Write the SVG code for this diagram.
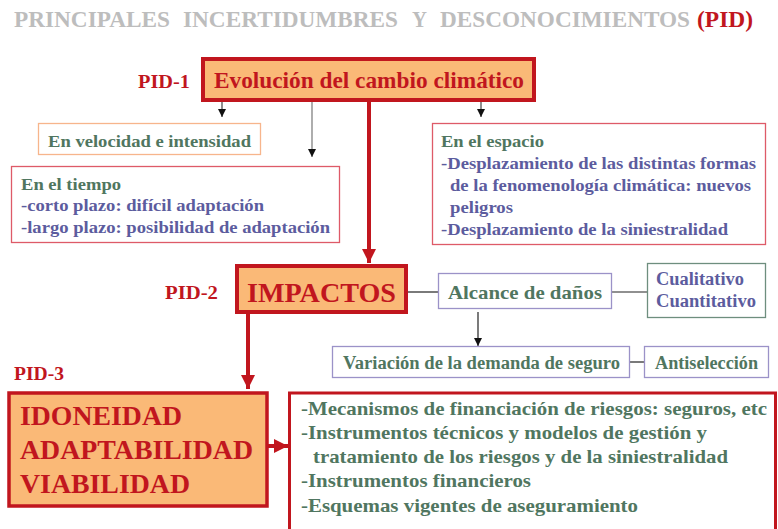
<svg xmlns="http://www.w3.org/2000/svg" width="778" height="529" viewBox="0 0 778 529">
<defs>
<style>
text{font-family:"Liberation Serif","Times New Roman",serif;font-weight:bold}
.title{fill:#BDBDBD;font-size:23px}
.red{fill:#C1161E}
.pid{fill:#C1161E;font-size:19px}
.g{fill:#507660;font-size:17px}
.p{fill:#5C5C9E;font-size:17px}
.g18{fill:#507660;font-size:18px}
.g17{fill:#507660;font-size:19.5px}
.p17{fill:#5C5C9E;font-size:18.5px}
.big{fill:#C1161E;font-size:28px}
.main{fill:#FAB977;stroke:#C1161E;stroke-width:4}
.main3{fill:#FAB977;stroke:#C1161E;stroke-width:3.5}
.box{fill:#fff}
</style>
<marker id="ab" markerWidth="10" markerHeight="10" refX="8" refY="4" orient="auto" markerUnits="userSpaceOnUse"><path d="M0,0 L8,4 L0,8 Z" fill="#111"/></marker>
<marker id="ar" markerWidth="16" markerHeight="16" refX="14" refY="7" orient="auto" markerUnits="userSpaceOnUse"><path d="M0,0 L14,7 L0,14 Z" fill="#C1161E"/></marker>
</defs>
<rect width="778" height="529" fill="#fff"/>
<g id="title">
<text x="14" y="27" class="title" textLength="156" lengthAdjust="spacingAndGlyphs">PRINCIPALES</text>
<text x="183" y="27" class="title" textLength="215" lengthAdjust="spacingAndGlyphs">INCERTIDUMBRES</text>
<text x="412" y="27" class="title" textLength="15" lengthAdjust="spacingAndGlyphs">Y</text>
<text x="440" y="27" class="title" textLength="250" lengthAdjust="spacingAndGlyphs">DESCONOCIMIENTOS</text>
<text x="697" y="27" class="red" font-size="23" textLength="56" lengthAdjust="spacingAndGlyphs">(PID)</text>
</g>
<g id="connectors">
<line x1="222" y1="100" x2="222" y2="117" stroke="#444" stroke-width="1.2" marker-end="url(#ab)"/>
<line x1="312" y1="100" x2="312" y2="157" stroke="#777" stroke-width="1.2" marker-end="url(#ab)"/>
<line x1="481" y1="100" x2="481" y2="117" stroke="#444" stroke-width="1.2" marker-end="url(#ab)"/>
<line x1="369" y1="100" x2="369" y2="263" stroke="#C1161E" stroke-width="4" marker-end="url(#ar)"/>
<line x1="248" y1="312" x2="248" y2="389" stroke="#C1161E" stroke-width="4" marker-end="url(#ar)"/>
<line x1="264" y1="446" x2="288" y2="446" stroke="#C1161E" stroke-width="4" marker-end="url(#ar)"/>
<line x1="406" y1="292" x2="438" y2="292" stroke="#222" stroke-width="1.2"/>
<line x1="612" y1="292" x2="647" y2="292" stroke="#222" stroke-width="1.2"/>
<line x1="630" y1="362" x2="644" y2="362" stroke="#222" stroke-width="1.2"/>
<line x1="478" y1="312" x2="478" y2="346" stroke="#222" stroke-width="1.2" marker-end="url(#ab)"/>
</g>
<g id="pid1">
<text x="138" y="88" class="pid" textLength="52" lengthAdjust="spacingAndGlyphs">PID-1</text>
<rect x="203" y="59" width="331" height="41" class="main"/>
<text x="214" y="88" class="red" font-size="24" textLength="310" lengthAdjust="spacingAndGlyphs">Evolución del cambio climático</text>
</g>
<g id="velocidad">
<rect x="38.5" y="123.5" width="222" height="31" class="box" stroke="#F7B58C" stroke-width="1.3"/>
<text x="48" y="147" class="g" textLength="203" lengthAdjust="spacingAndGlyphs">En velocidad e intensidad</text>
</g>
<g id="tiempo">
<rect x="11.5" y="166.5" width="328" height="76" class="box" stroke="#DE5A68" stroke-width="1.3"/>
<text x="21" y="190" class="g" textLength="100" lengthAdjust="spacingAndGlyphs">En el tiempo</text>
<text x="21" y="211" class="p" textLength="243" lengthAdjust="spacingAndGlyphs">-corto plazo: difícil adaptación</text>
<text x="21" y="233" class="p" textLength="309" lengthAdjust="spacingAndGlyphs">-largo plazo: posibilidad de adaptación</text>
</g>
<g id="espacio">
<rect x="432.5" y="123.5" width="333" height="121" class="box" stroke="#DE5A68" stroke-width="1.3"/>
<text x="441" y="147" class="g" textLength="103" lengthAdjust="spacingAndGlyphs">En el espacio</text>
<text x="441" y="169" class="p" textLength="315" lengthAdjust="spacingAndGlyphs">-Desplazamiento de las distintas formas</text>
<text x="450" y="191" class="p" textLength="301" lengthAdjust="spacingAndGlyphs">de la fenomenología climática: nuevos</text>
<text x="450" y="213" class="p" textLength="63" lengthAdjust="spacingAndGlyphs">peligros</text>
<text x="441" y="235" class="p" textLength="287" lengthAdjust="spacingAndGlyphs">-Desplazamiento de la siniestralidad</text>
</g>
<g id="pid2">
<text x="165" y="299" class="pid" textLength="53" lengthAdjust="spacingAndGlyphs">PID-2</text>
<rect x="237" y="266" width="169" height="46" class="main"/>
<text x="247" y="302" class="big" textLength="149" lengthAdjust="spacingAndGlyphs">IMPACTOS</text>
</g>
<g id="alcance">
<rect x="438.5" y="273.5" width="173" height="35" class="box" stroke="#9B92C8" stroke-width="1.3"/>
<text x="448" y="299" class="g17" textLength="154" lengthAdjust="spacingAndGlyphs">Alcance de daños</text>
</g>
<g id="cualitativo">
<rect x="647.5" y="263.5" width="118" height="54" class="box" stroke="#6E8E7E" stroke-width="1.3"/>
<text x="656" y="285" class="p17" textLength="88" lengthAdjust="spacingAndGlyphs">Cualitativo</text>
<text x="656" y="307" class="p17" textLength="100" lengthAdjust="spacingAndGlyphs">Cuantitativo</text>
</g>
<g id="variacion">
<rect x="332.5" y="346.5" width="297" height="31" class="box" stroke="#9B92C8" stroke-width="1.3"/>
<text x="343" y="369" class="g18" textLength="277" lengthAdjust="spacingAndGlyphs">Variación de la demanda de seguro</text>
</g>
<g id="antiseleccion">
<rect x="644.5" y="346.5" width="124" height="31" class="box" stroke="#9B92C8" stroke-width="1.3"/>
<text x="655" y="369" class="g18" textLength="103" lengthAdjust="spacingAndGlyphs">Antiselección</text>
</g>
<g id="pid3">
<text x="14" y="380" class="pid" textLength="50" lengthAdjust="spacingAndGlyphs">PID-3</text>
<rect x="9" y="393" width="258" height="113" class="main3"/>
<text x="20" y="425" class="big" textLength="162" lengthAdjust="spacingAndGlyphs">IDONEIDAD</text>
<text x="20" y="459" class="big" textLength="233" lengthAdjust="spacingAndGlyphs">ADAPTABILIDAD</text>
<text x="20" y="493" class="big" textLength="170" lengthAdjust="spacingAndGlyphs">VIABILIDAD</text>
</g>
<g id="instrumentos">
<rect x="289.5" y="393" width="486" height="150" class="box" stroke="#C1161E" stroke-width="3"/>
<text x="301" y="415" class="g17" textLength="466" lengthAdjust="spacingAndGlyphs">-Mecanismos de financiación de riesgos: seguros, etc</text>
<text x="301" y="439" class="g17" textLength="406" lengthAdjust="spacingAndGlyphs">-Instrumentos técnicos y modelos de gestión y</text>
<text x="313" y="463" class="g17" textLength="415" lengthAdjust="spacingAndGlyphs">tratamiento de los riesgos y de la siniestralidad</text>
<text x="301" y="487" class="g17" textLength="230" lengthAdjust="spacingAndGlyphs">-Instrumentos financieros</text>
<text x="301" y="512" class="g17" textLength="337" lengthAdjust="spacingAndGlyphs">-Esquemas vigentes de aseguramiento</text>
</g>
</svg>
